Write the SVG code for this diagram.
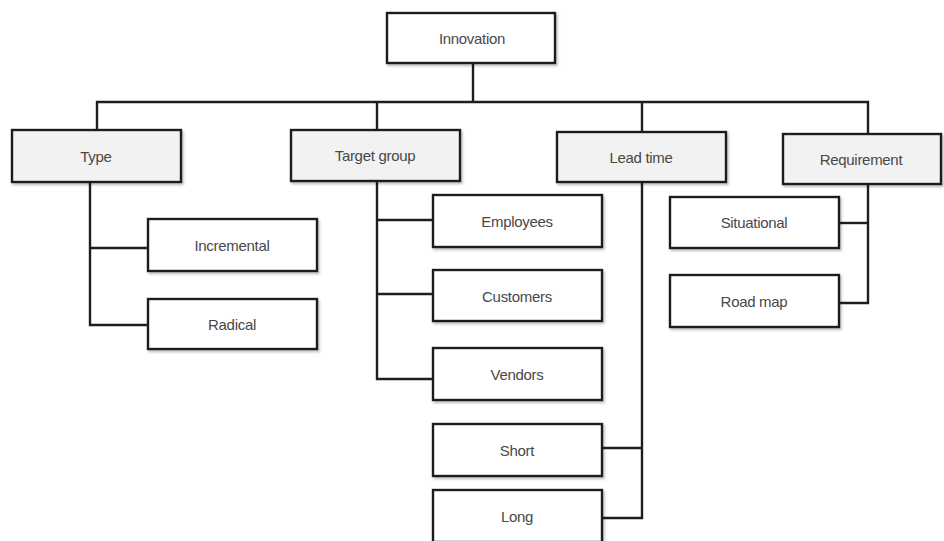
<svg xmlns="http://www.w3.org/2000/svg" width="944" height="541" viewBox="0 0 944 541">
  <defs>
    <filter id="shadow" x="-5%" y="-10%" width="115%" height="130%">
      <feDropShadow dx="1.5" dy="2" stdDeviation="1" flood-color="#000" flood-opacity="0.25"/>
    </filter>
  </defs>
  <style>
    .box { fill: #ffffff; stroke: #1e1e1e; stroke-width: 2.4; filter: url(#shadow); }
    .cat { fill: #f2f2f2; }
    .lbl { font-family: "Liberation Sans", Arial, sans-serif; font-size: 15px; letter-spacing: -0.3px; fill: #484848; text-anchor: middle; dominant-baseline: central; }
    .wire { fill: none; stroke: #1e1e1e; stroke-width: 2.4; stroke-linejoin: miter; }
  </style>

  <!-- tree connectors -->
  <g id="connectors">
    <path class="wire" d="M473 63 V102"/>
    <path class="wire" d="M97 130 V102 H868 V134"/>
    <path class="wire" d="M377 102 V130"/>
    <path class="wire" d="M642 102 V132"/>
    <!-- Type branch -->
    <path class="wire" d="M90 182 V325 H148"/>
    <path class="wire" d="M90 248 H148"/>
    <!-- Target group branch -->
    <path class="wire" d="M377 181 V379 H433"/>
    <path class="wire" d="M377 220 H433"/>
    <path class="wire" d="M377 294 H433"/>
    <!-- Lead time branch -->
    <path class="wire" d="M642 182 V518 H602"/>
    <path class="wire" d="M642 448 H602"/>
    <!-- Requirement branch -->
    <path class="wire" d="M868 184 V303 H839"/>
    <path class="wire" d="M868 223 H839"/>
  </g>

  <g id="innovation">
    <rect class="box" x="387" y="13" width="168" height="50"/>
    <text class="lbl" x="472" y="38">Innovation</text>
  </g>

  <g id="type">
    <rect class="box cat" x="12" y="130" width="169" height="52"/>
    <text class="lbl" x="96" y="156">Type</text>
  </g>
  <g id="incremental">
    <rect class="box" x="148" y="219" width="169" height="52"/>
    <text class="lbl" x="232" y="245">Incremental</text>
  </g>
  <g id="radical">
    <rect class="box" x="148" y="299" width="169" height="50"/>
    <text class="lbl" x="232" y="324">Radical</text>
  </g>

  <g id="target-group">
    <rect class="box cat" x="291" y="130" width="169" height="51"/>
    <text class="lbl" x="375" y="155">Target group</text>
  </g>
  <g id="employees">
    <rect class="box" x="433" y="195" width="169" height="52"/>
    <text class="lbl" x="517" y="221">Employees</text>
  </g>
  <g id="customers">
    <rect class="box" x="433" y="270" width="169" height="51"/>
    <text class="lbl" x="517" y="296">Customers</text>
  </g>
  <g id="vendors">
    <rect class="box" x="433" y="348" width="169" height="52"/>
    <text class="lbl" x="517" y="374">Vendors</text>
  </g>

  <g id="lead-time">
    <rect class="box cat" x="557" y="132" width="169" height="50"/>
    <text class="lbl" x="641" y="157">Lead time</text>
  </g>
  <g id="short">
    <rect class="box" x="433" y="424" width="169" height="52"/>
    <text class="lbl" x="517" y="450">Short</text>
  </g>
  <g id="long">
    <rect class="box" x="433" y="490" width="169" height="52"/>
    <text class="lbl" x="517" y="516">Long</text>
  </g>

  <g id="requirement">
    <rect class="box cat" x="783" y="134" width="158" height="50"/>
    <text class="lbl" x="861" y="159">Requirement</text>
  </g>
  <g id="situational">
    <rect class="box" x="670" y="197" width="169" height="51"/>
    <text class="lbl" x="754" y="222">Situational</text>
  </g>
  <g id="road-map">
    <rect class="box" x="670" y="275" width="169" height="52"/>
    <text class="lbl" x="754" y="301">Road map</text>
  </g>
</svg>
